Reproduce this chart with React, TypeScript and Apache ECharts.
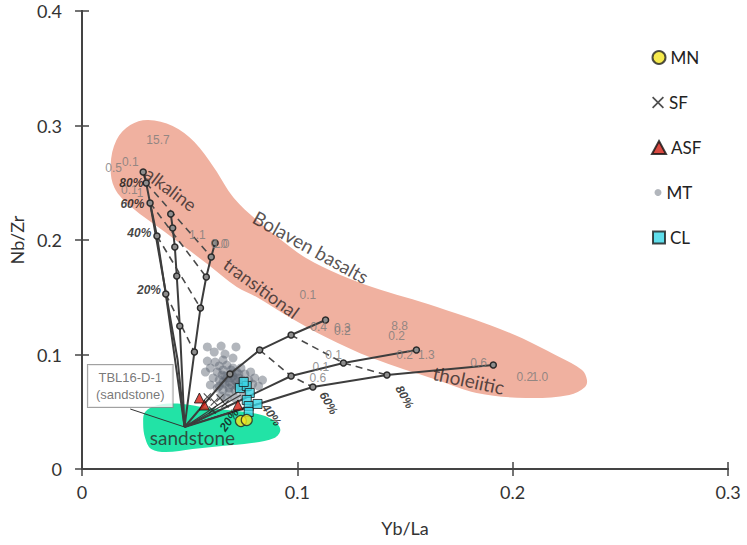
import React, { useEffect, useRef } from "react";
import * as echarts from "echarts";

// ---------- data (Yb/La, Nb/Zr) ----------
const sandstonePoint: [number, number] = [0.0476, 0.0367];

const alkaline1: [number, number][] = [[0.0284, 0.2594], [0.0298, 0.2498], [0.0316, 0.2323], [0.0348, 0.2035], [0.0389, 0.1528]];
const alkaline1b: [number, number][] = [[0.0316, 0.2323], [0.0444, 0.0952]];
const alkaline2: [number, number][] = [[0.0412, 0.2227], [0.0421, 0.2105], [0.0431, 0.1939], [0.044, 0.1686], [0.0454, 0.1249]];
const alkaline3: [number, number][] = [[0.0618, 0.1974], [0.06, 0.1852], [0.0577, 0.1677], [0.055, 0.1406], [0.0522, 0.1022]];
const trans1: [number, number][] = [[0.1131, 0.1301], [0.0971, 0.117], [0.0825, 0.1039], [0.0687, 0.083]];
const trans2: [number, number][] = [[0.1553, 0.1039], [0.1214, 0.0926], [0.0971, 0.0812]];
const trans3: [number, number][] = [[0.191, 0.0908], [0.1416, 0.0821], [0.1072, 0.0716]];
const clusterLines: [number, number][][] = [
  [[0.0765, 0.0725]], [[0.0815, 0.0568]], [[0.0774, 0.055]], [[0.0738, 0.0646]],
];

const tieLines: [number, number][][] = [
  [[0.0298, 0.2498], [0.06, 0.1852]],
  [[0.0316, 0.2323], [0.0577, 0.1677]],
  [[0.0348, 0.2035], [0.055, 0.1406]],
  [[0.0389, 0.1528], [0.0522, 0.1022]],
  [[0.0971, 0.117], [0.1214, 0.0926], [0.1416, 0.0821]],
  [[0.0825, 0.1039], [0.0971, 0.0812], [0.1072, 0.0716]],
];

const bolavenOutline: [number, number][] = [
  [0.0307, 0.3048], [0.0421, 0.2996], [0.0522, 0.2856], [0.0614, 0.2629], [0.0705, 0.2367],
  [0.0811, 0.2175], [0.0925, 0.2], [0.104, 0.1843], [0.12, 0.1694], [0.1347, 0.159],
  [0.1649, 0.1415], [0.1988, 0.1188], [0.2217, 0.0978], [0.2322, 0.0865], [0.2345, 0.0777],
  [0.2336, 0.0716], [0.2263, 0.0646], [0.2061, 0.062], [0.1832, 0.0664], [0.1649, 0.0777],
  [0.1347, 0.0969], [0.1131, 0.1153], [0.0962, 0.1328], [0.0811, 0.1502], [0.0719, 0.159],
  [0.0582, 0.179], [0.0385, 0.207], [0.0229, 0.2288], [0.0151, 0.2454], [0.0133, 0.2655],
  [0.016, 0.2873], [0.0224, 0.3004],
];

const sandstoneOutline: [number, number][] = [
  [0.0293, 0.0498], [0.0353, 0.0559], [0.0467, 0.0568], [0.0582, 0.0533], [0.0719, 0.0507],
  [0.0834, 0.0472], [0.0893, 0.0419], [0.0921, 0.0341], [0.0893, 0.0271], [0.0788, 0.0227],
  [0.065, 0.0201], [0.0513, 0.0175], [0.0389, 0.0148], [0.0321, 0.0175], [0.0293, 0.0271],
  [0.0284, 0.0393],
];

const mtData: [number, number][] = [
  [0.0582, 0.1066], [0.0646, 0.1074], [0.0715, 0.1066], [0.0582, 0.0943],
  [0.0596, 0.0882], [0.0618, 0.0934], [0.0637, 0.09], [0.0655, 0.0952], [0.0673, 0.0908],
  [0.0692, 0.0865], [0.0628, 0.0847], [0.065, 0.0821], [0.0673, 0.0795], [0.0701, 0.0812],
  [0.0719, 0.0847], [0.0738, 0.0882], [0.0756, 0.083], [0.0774, 0.0777], [0.0792, 0.0742],
  [0.0719, 0.076], [0.0696, 0.0734], [0.0664, 0.0742], [0.0637, 0.0777], [0.0609, 0.0795],
  [0.0628, 0.0707], [0.0655, 0.069], [0.0683, 0.0672], [0.071, 0.069], [0.0738, 0.0725],
  [0.0765, 0.0707], [0.0747, 0.0646], [0.071, 0.062], [0.0673, 0.062], [0.0646, 0.0638],
  [0.0802, 0.0795], [0.0783, 0.0847], [0.082, 0.0725], [0.0838, 0.0777], [0.0614, 0.1022],
  [0.0664, 0.1004], [0.0701, 0.0969], [0.0573, 0.0847], [0.0596, 0.0734],
  [0.0692, 0.0795], [0.0719, 0.0725], [0.0683, 0.0707], [0.0664, 0.0812], [0.0746, 0.0777],
  [0.0655, 0.0865], [0.0701, 0.0882], [0.0728, 0.0795], [0.0637, 0.0725],
  [0.0683, 0.0760], [0.0710, 0.0777], [0.0655, 0.0760], [0.0692, 0.0830], [0.0728, 0.0830],
];
const clData: [number, number][] = [
  [0.0733, 0.0707], [0.0765, 0.0725], [0.0779, 0.0664], [0.0765, 0.0603], [0.0774, 0.055],
  [0.0774, 0.0498], [0.0815, 0.0568], [0.0751, 0.076],
];
const asfData: [number, number][] = [[0.0568, 0.0559], [0.0545, 0.062], [0.0724, 0.0559]];
const mnData: [number, number][] = [[0.0738, 0.0419], [0.0765, 0.0428]];
const sfData: [number, number][] = [[0.0582, 0.0629], [0.0614, 0.0585], [0.0641, 0.062], [0.0605, 0.0515], [0.0664, 0.0568]];

const valueLabels: { text: string; at: [number, number] }[] = [
  { text: "15.7", at: [0.0353, 0.2873] }, { text: "0.5", at: [0.0147, 0.2629] },
  { text: "0.1", at: [0.0224, 0.2681] }, { text: "0.1", at: [0.022, 0.2437] },
  { text: "1", at: [0.027, 0.241] }, { text: "1.1", at: [0.0536, 0.2044] },
  { text: "0.0", at: [0.0637, 0.1965] }, { text: "1.0", at: [0.0646, 0.1965] },
  { text: "0.1", at: [0.1049, 0.152] }, { text: "0.4", at: [0.1099, 0.124] },
  { text: "0.3", at: [0.1209, 0.1231] }, { text: "0.2", at: [0.1209, 0.1205] },
  { text: "8.8", at: [0.1475, 0.1249] }, { text: "0.2", at: [0.1461, 0.1162] },
  { text: "0.2", at: [0.1498, 0.0996] }, { text: "1.3", at: [0.1599, 0.0996] },
  { text: "0.1", at: [0.1168, 0.0996] }, { text: "0.1", at: [0.1109, 0.0891] },
  { text: "0.6", at: [0.1095, 0.0795] }, { text: "0.6", at: [0.1842, 0.0926] },
  { text: "0.2", at: [0.2057, 0.0803] }, { text: "1.0", at: [0.2126, 0.0803] },
];
const percentLabels: { text: string; at: [number, number]; rotate: number }[] = [
  { text: "80%", at: [0.0229, 0.2498], rotate: 0 },
  { text: "60%", at: [0.0234, 0.2314], rotate: 0 },
  { text: "40%", at: [0.0266, 0.2061], rotate: 0 },
  { text: "20%", at: [0.0311, 0.1563], rotate: 0 },
  { text: "60%", at: [0.1145, 0.0576], rotate: -60 },
  { text: "80%", at: [0.1498, 0.0629], rotate: -60 },
  { text: "40%", at: [0.088, 0.0472], rotate: -55 },
  { text: "20%", at: [0.0683, 0.0428], rotate: 55 },
];
const regionLabels: { text: string; at: [number, number]; rotate: number; size: number }[] = [
  { text: "alkaline", at: [0.0412, 0.2445], rotate: -37, size: 18 },
  { text: "Bolaven basalts", at: [0.1063, 0.1939], rotate: -29, size: 19 },
  { text: "transitional", at: [0.0834, 0.1581], rotate: -36, size: 18 },
  { text: "tholeiitic", at: [0.1796, 0.0777], rotate: -12, size: 19 },
  { text: "sandstone", at: [0.0513, 0.0271], rotate: 0, size: 19 },
];
const sampleBox = { text: "TBL16-D-1\n(sandstone)", at: [0.0224, 0.0725] as [number, number], arrowFrom: [0.0224, 0.0524] as [number, number] };

const legendNames = ["MN", "SF", "ASF", "MT", "CL"];
const xTicks = [0, 0.1, 0.2, 0.3];
const yTicks = [0, 0.1, 0.2, 0.3, 0.4];

const X_PATH = "path://M0,1L1,0L5,4L9,0L10,1L6,5L10,9L9,10L5,6L1,10L0,9L4,5Z";

export default function App() {
  const ref = useRef<HTMLDivElement>(null);
  useEffect(() => {
    if (!ref.current) return;
    document.body.style.margin = "0";
    const chart = echarts.init(ref.current, undefined, { renderer: "svg" });
    const lineColor = "#3d3d3d";
    const markerStyle = { color: "#8d8d8d", borderColor: "#2a2a2a", borderWidth: 1.5 };
    const mixLine = (pts: [number, number][], markers = true, width = 2) => ({
      type: "line",
      data: [...pts.map((p) => ({ value: p })), { value: sandstonePoint, symbol: "none" }],
      symbol: markers ? "circle" : "none",
      symbolSize: 6,
      showAllSymbol: true,
      lineStyle: { color: lineColor, width },
      itemStyle: markerStyle,
      z: 3,
      silent: true,
    });
    const region = (outline: [number, number][], fill: string) => ({
      type: "custom",
      data: [[0, 0]],
      silent: true,
      z: 1,
      renderItem: (_p: any, api: any) => ({
        type: "polygon",
        shape: { points: outline.map((pt) => api.coord(pt)), smooth: 0.35 },
        style: { fill },
      }),
    });
    const textSeries = (items: any[], label: any, z = 6) => ({
      type: "scatter",
      symbolSize: 1,
      itemStyle: { color: "rgba(0,0,0,0)" },
      silent: true,
      z,
      data: items.map((it) => ({
        name: it.text,
        value: it.at,
        label: { rotate: it.rotate || 0, ...(it.size ? { fontSize: it.size } : {}) },
      })),
      label: { show: true, position: "inside", formatter: "{b}", ...label },
    });

    const legendMeta = [
      { w: 13, h: 13, icon: "circle", top: 49 },
      { w: 12, h: 12, icon: X_PATH, top: 94 },
      { w: 14, h: 13, icon: "triangle", top: 139 },
      { w: 7, h: 7, icon: "circle", top: 184 },
      { w: 12, h: 12, icon: "rect", top: 229 },
    ];

    chart.setOption({
      animation: false,
      backgroundColor: "#fff",
      grid: { left: 73, right: 19, top: 11, bottom: 76, containLabel: false },
      legend: legendNames.map((n, i) => ({
        data: [{ name: n, icon: legendMeta[i].icon }],
        left: 658 - legendMeta[i].w / 2,
        top: legendMeta[i].top,
        padding: 0,
        itemWidth: legendMeta[i].w,
        itemHeight: legendMeta[i].h,
        itemGap: 0,
        selectedMode: false,
        textStyle: { fontSize: 17, fontFamily: "Lato", color: "#222", padding: [0, 0, 0, 0] },
      })),
      xAxis: [
        {
          type: "value", min: xTicks[0], max: xTicks[xTicks.length - 1], interval: 0.1,
          name: "Yb/La", nameLocation: "middle", nameGap: 50,
          nameTextStyle: { fontSize: 18, fontFamily: "Lato", color: "#333" },
          axisLine: { show: true, lineStyle: { color: "#444", width: 2 } },
          axisTick: { show: true, inside: true, length: 7, lineStyle: { color: "#444", width: 1.5 } },
          axisLabel: { fontSize: 18, fontFamily: "Lato", color: "#333", margin: 14 },
          splitLine: { show: false },
        },
        {
          type: "value", position: "top", min: 0, max: 0.3, interval: 0.1,
          axisLine: { show: true, lineStyle: { color: "#444", width: 2 } },
          axisTick: { show: true, inside: true, length: 7, lineStyle: { color: "#444", width: 1.5 } },
          axisLabel: { show: false }, splitLine: { show: false },
        },
      ],
      yAxis: [
        {
          type: "value", min: yTicks[0], max: yTicks[yTicks.length - 1], interval: 0.1,
          name: "Nb/Zr", nameLocation: "middle", nameGap: 55, nameRotate: 90,
          nameTextStyle: { fontSize: 18, fontFamily: "Lato", color: "#333" },
          axisLine: { show: true, lineStyle: { color: "#444", width: 2 } },
          axisTick: { show: true, inside: true, length: 7, lineStyle: { color: "#444", width: 1.5 } },
          axisLabel: { fontSize: 18, fontFamily: "Lato", color: "#333", margin: 20 },
          splitLine: { show: false },
        },
        {
          type: "value", position: "right", min: 0, max: 0.4, interval: 0.1,
          axisLine: { show: true, lineStyle: { color: "#444", width: 2 } },
          axisTick: { show: true, inside: true, length: 7, lineStyle: { color: "#444", width: 1.5 } },
          axisLabel: { show: false }, splitLine: { show: false },
        },
      ],
      series: [
        region(bolavenOutline, "#f0b1a0"),
        region(sandstoneOutline, "#22e3a6"),
        {
          name: "MT", type: "scatter", data: mtData, symbol: "circle", symbolSize: 9, z: 2,
          itemStyle: { color: "rgba(95,103,115,0.6)" },
        },
        mixLine(alkaline1),
        mixLine(alkaline1b, false),
        mixLine(alkaline2),
        mixLine(alkaline3),
        mixLine(trans1),
        mixLine(trans2),
        mixLine(trans3),
        ...clusterLines.map((pts) => mixLine(pts, false, 1.3)),
        ...tieLines.map((pts) => ({
          type: "line", data: pts, symbol: "none", silent: true, z: 2,
          lineStyle: { color: "#4a4a4a", width: 1.6, type: [7, 5] },
        })),
        {
          name: "SF", type: "scatter", data: sfData, symbol: X_PATH, symbolSize: 8, z: 5,
          itemStyle: { color: "#222" },
        },
        {
          name: "ASF", type: "scatter", data: asfData, symbol: "triangle", symbolSize: 10, z: 5,
          itemStyle: { color: "#d01b12", borderColor: "#111", borderWidth: 1 },
        },
        {
          name: "CL", type: "scatter", data: clData, symbol: "rect", symbolSize: 9, z: 5,
          itemStyle: { color: "#38d6e6", borderColor: "#1a1a1a", borderWidth: 1 },
        },
        {
          name: "MN", type: "scatter", data: mnData, symbol: "circle", symbolSize: 11, z: 5,
          itemStyle: { color: "#f4e520", borderColor: "#222", borderWidth: 1.2 },
        },
        textSeries(valueLabels, { fontSize: 12, fontFamily: "Liberation Sans", color: "#7a7a7a" }),
        textSeries(percentLabels, { fontSize: 12, fontFamily: "Liberation Sans", fontWeight: "bold", fontStyle: "italic", color: "#111" }),
        textSeries(regionLabels, { fontSize: 18, fontFamily: "Lato", color: "#2e2626" }),
        {
          type: "scatter", symbolSize: 1, itemStyle: { color: "rgba(0,0,0,0)" }, silent: true, z: 7,
          data: [{ name: sampleBox.text, value: sampleBox.at }],
          label: {
            show: true, position: "inside", formatter: "{b}", fontSize: 13, lineHeight: 17,
            fontFamily: "Liberation Sans", color: "#555", backgroundColor: "#fff",
            borderColor: "#8a8a8a", borderWidth: 1, padding: [4, 8], align: "center",
          },
          markLine: {
            silent: true, symbol: ["none", "arrow"], symbolSize: [0, 7],
            lineStyle: { color: "#333", width: 1, type: "solid" },
            label: { show: false },
            data: [[{ coord: sampleBox.arrowFrom }, { coord: sandstonePoint }]],
          },
        },
      ],
    });
    return () => chart.dispose();
  }, []);
  return <div ref={ref} style={{ width: 747, height: 545 }} />;
}
